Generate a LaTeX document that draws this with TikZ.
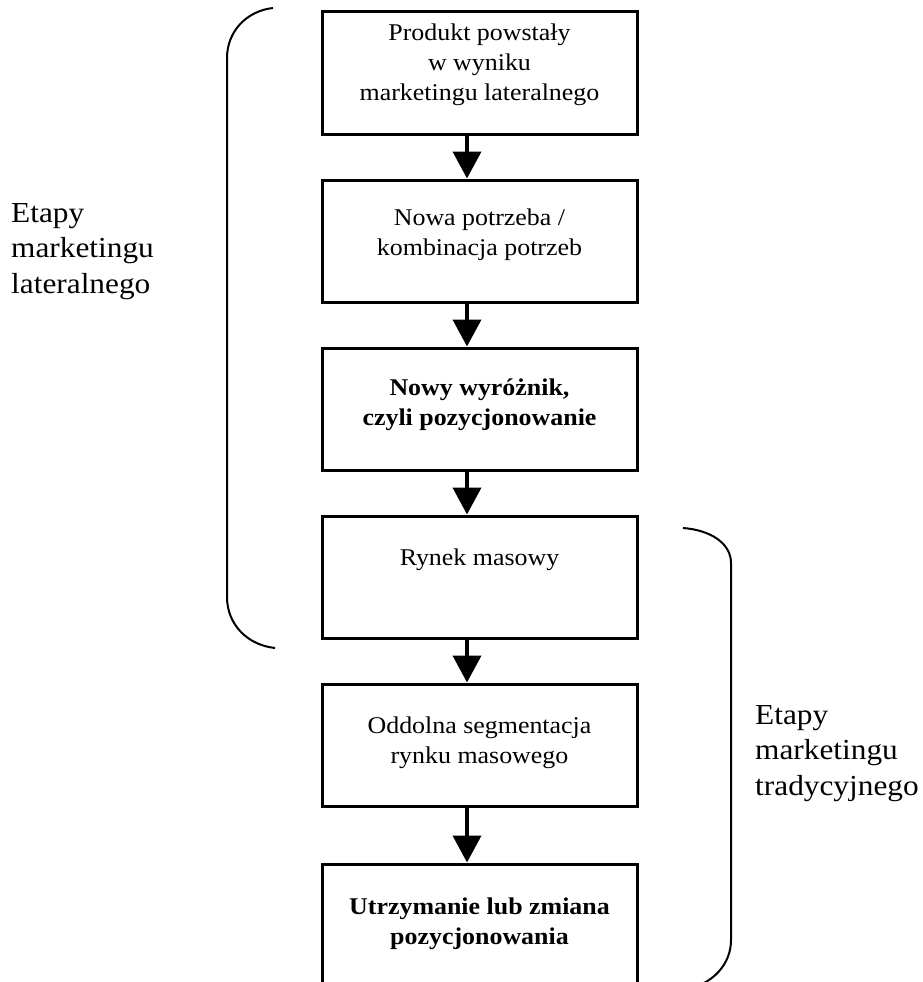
\documentclass[tikz,border=0pt]{standalone}
\usepackage{fontspec}
\setmainfont{Liberation Serif}[FakeStretch=1.08]
\usetikzlibrary{positioning,arrows.meta}

\begin{document}
\begin{tikzpicture}[x=1pt,y=-1pt,
  box/.style={draw, line width=3pt, minimum width=315pt, minimum height=122pt,
    inner sep=0pt, align=center, font=\fontsize{24}{30}\selectfont},
  lift/.style={text depth=#1},
  flow/.style={line width=4pt, -{Triangle[width=28pt,length=27pt]}},
  stage/.style={inner sep=0pt, align=left, anchor=north west,
    font=\fontsize{29}{35.5}\selectfont},
  brace/.style={line width=2pt}]
\clip (0,0) rectangle (923,982);
\def\xa{479.5}
\def\dx{12.5}

\def\dy{168}
\def\ya{73}
\def\yb{\ya + \dy}
\def\yc{\ya + 2 * \dy}
\def\yd{\ya + 3 * \dy}
\def\ye{\ya + 4 * \dy}
\def\yf{925}

\node[box, lift=21pt] (a) at (\xa, \ya) {Produkt powstały\\w wyniku\\marketingu lateralnego};
\node[box, lift=17pt] (b) at (\xa, \yb) {Nowa potrzeba /\\kombinacja potrzeb};
\node[box, lift=13pt] (c) at (\xa, \yc) {\textbf{Nowy wyróżnik,}\\\textbf{czyli pozycjonowanie}};
\node[box, lift=39pt] (d) at (\xa, \yd) {Rynek masowy};
\node[box, lift=9pt] (e) at (\xa, \ye) {Oddolna segmentacja\\rynku masowego};
\node[box, lift=8pt] (f) at (\xa, \yf) {\textbf{Utrzymanie lub zmiana}\\\textbf{pozycjonowania}};

\draw[flow] ([xshift=-\dx pt]a.south) -- ([xshift=-\dx pt]b.north);
\draw[flow] ([xshift=-\dx pt]b.south) -- ([xshift=-\dx pt]c.north);
\draw[flow] ([xshift=-\dx pt]c.south) -- ([xshift=-\dx pt]d.north);
\draw[flow] ([xshift=-\dx pt]d.south) -- ([xshift=-\dx pt]e.north);
\draw[flow] ([xshift=-\dx pt]e.south) -- ([xshift=-\dx pt]f.north);

% brackets
\draw[brace] (273,8) .. controls (246,11) and (227,32) .. (227,58)
  -- (227,597) .. controls (227,624) and (247,645) .. (275,648);
\draw[brace] (683,528) .. controls (710,530) and (731,543) .. (731,563)
  -- (731,940) .. controls (731,964) and (713,985) .. (683,990);

\node[stage] (lat) at (11,203) {Etapy\\marketingu\\lateralnego};
\node[stage] (tra) at (755,705) {Etapy\\marketingu\\tradycyjnego};

\end{tikzpicture}
\end{document}
